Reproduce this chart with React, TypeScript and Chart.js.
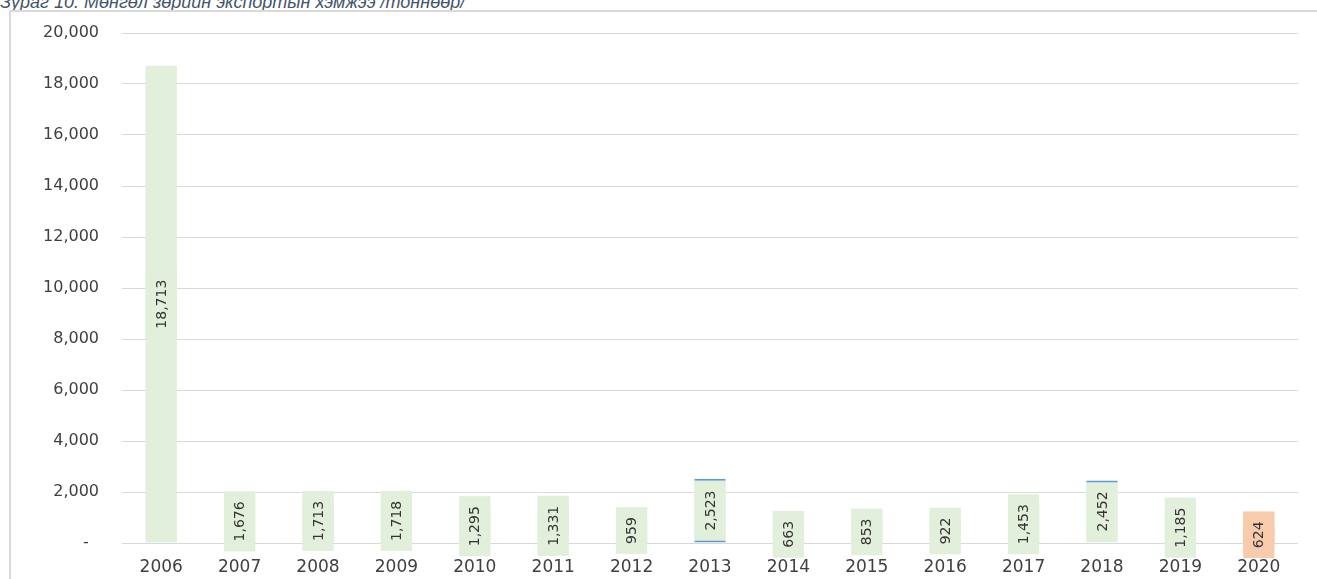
import React, { useEffect, useRef } from "react";
import { Chart, registerables } from "chart.js";

Chart.register(...registerables);

const categories = ["2006", "2007", "2008", "2009", "2010", "2011", "2012", "2013", "2014", "2015", "2016", "2017", "2018", "2019", "2020"];
const exportValues = [18713, 1676, 1713, 1718, 1295, 1331, 959, 2523, 663, 853, 922, 1453, 2452, 1185, 624];
const yTickValues = [0, 2000, 4000, 6000, 8000, 10000, 12000, 14000, 16000, 18000, 20000];
const titleText = "Зураг 10. Мөнгөл зөрийн экспортын хэмжээ /тоннөөр/";

const GREEN = "#E2EFDA";
const ORANGE = "#F8CBAD";
const BLUE = "#5B9BD5";
const TEXT = "#404040";

const barColor = (i: number) => (categories[i] === "2020" ? ORANGE : GREEN);

const labelPlugin = {
  id: "boxLabels",
  beforeDatasetsDraw(chart: any) {
    const ctx = chart.ctx;
    const meta = chart.getDatasetMeta(0);
    ctx.save();
    ctx.font = '14px "DejaVu Sans"';
    meta.data.forEach((bar: any, i: number) => {
      const p = bar.getProps(["x", "y", "base", "width"], true);
      const txt = exportValues[i].toLocaleString("en-US");
      const tw = ctx.measureText(txt).width;
      const h = tw + 20;
      const cy = (p.y + p.base) / 2;
      ctx.fillStyle = barColor(i);
      ctx.fillRect(p.x - p.width / 2, cy - h / 2, p.width, h);
    });
    ctx.restore();
  },
  afterDatasetsDraw(chart: any) {
    const ctx = chart.ctx;
    const meta = chart.getDatasetMeta(0);
    ctx.save();
    ctx.font = '14px "DejaVu Sans"';
    ctx.fillStyle = "#333333";
    ctx.textAlign = "center";
    ctx.textBaseline = "middle";
    meta.data.forEach((bar: any, i: number) => {
      const p = bar.getProps(["x", "y", "base"], true);
      const txt = exportValues[i].toLocaleString("en-US");
      const cy = (p.y + p.base) / 2;
      ctx.save();
      ctx.translate(p.x, cy);
      ctx.rotate(-Math.PI / 2);
      ctx.fillText(txt, 0, 1);
      ctx.restore();
    });
    ctx.restore();
  },
};

export default function App() {
  const ref = useRef<HTMLCanvasElement | null>(null);

  useEffect(() => {
    if (!ref.current) return;
    const chart = new Chart(ref.current, {
      type: "bar",
      data: {
        labels: categories,
        datasets: [
          {
            data: exportValues,
            backgroundColor: categories.map((_, i) => barColor(i)),
            borderColor: BLUE,
            borderSkipped: false,
            borderWidth: ((c: any) => {
              const y = categories[c.dataIndex];
              if (y === "2013") return { top: 2, bottom: 2, left: 0, right: 0 };
              if (y === "2018") return { top: 2, bottom: 0, left: 0, right: 0 };
              return 0;
            }) as any,
            barPercentage: 0.4,
            categoryPercentage: 1,
          },
        ],
      },
      options: {
        responsive: false,
        animation: false,
        layout: { padding: { top: 21, right: 19, left: 0, bottom: 0 } },
        plugins: {
          legend: { display: false },
          tooltip: { enabled: false },
        },
        scales: {
          x: {
            grid: { display: false },
            border: { display: false },
            ticks: {
              color: TEXT,
              font: { family: "DejaVu Sans", size: 17 },
              padding: 6,
              maxRotation: 0,
            },
            afterFit: (s: any) => {
              s.height = 36;
            },
          },
          y: {
            min: 0,
            max: 20000,
            afterBuildTicks: (s: any) => {
              s.ticks = yTickValues.map((v) => ({ value: v }));
            },
            grid: { color: "#D9D9D9", lineWidth: 1, drawTicks: false },
            border: { display: false },
            ticks: {
              color: TEXT,
              font: { family: "DejaVu Sans", size: 16 },
              padding: 23,
              callback: (v: any) => (Number(v) === 0 ? "-  " : Number(v).toLocaleString("en-US")),
            },
            afterFit: (s: any) => {
              s.width = 111;
              s.paddingTop = 0;
              s.paddingBottom = 0;
            },
          },
        },
      },
      plugins: [labelPlugin],
    });
    return () => chart.destroy();
  }, []);

  return (
    <div style={{ position: "fixed", left: 0, top: 0, width: 1317, height: 579, overflow: "hidden", background: "#fff" }}>
      <div
        style={{
          position: "absolute",
          left: 0,
          top: -8,
          fontFamily: '"Liberation Sans", Arial, sans-serif',
          fontStyle: "italic",
          fontSize: 18,
          lineHeight: "20px",
          color: "#44546A",
          whiteSpace: "nowrap",
        }}
      >
        {titleText}
      </div>
      <div
        style={{
          position: "absolute",
          left: 9,
          top: 10,
          width: 1400,
          height: 700,
          borderLeft: "2px solid #D9D9D9",
          borderTop: "2px solid #D9D9D9",
          boxSizing: "border-box",
        }}
      />
      <canvas ref={ref} width={1306} height={567} style={{ position: "absolute", left: 11, top: 12 }} />
    </div>
  );
}
